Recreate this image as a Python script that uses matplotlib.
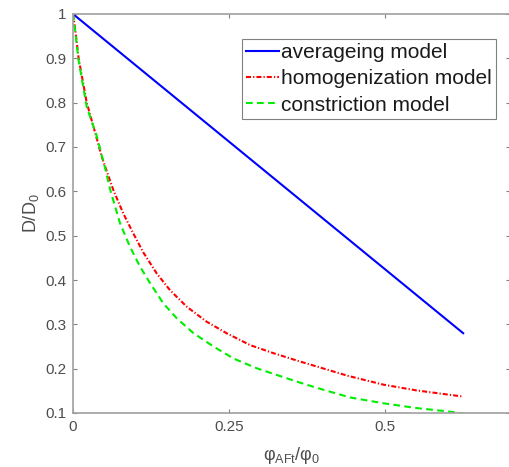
import matplotlib
matplotlib.use('Agg')
import matplotlib.pyplot as plt

plt.rcParams['font.family'] = ['Liberation Sans', 'DejaVu Sans']

# averaging model (straight line)
avg_x = [0.0, 0.625]
avg_y = [1.0, 0.28]

# homogenization model
hom_x = [0.0, 0.004, 0.009, 0.022, 0.035, 0.046, 0.0646, 0.0806, 0.0966, 0.1127,
         0.134, 0.1554, 0.182, 0.214, 0.246, 0.284, 0.321, 0.364, 0.44, 0.497,
         0.55, 0.625]
hom_y = [1.0, 0.96, 0.90, 0.80, 0.735, 0.678, 0.603, 0.550, 0.505, 0.462,
         0.415, 0.377, 0.340, 0.306, 0.280, 0.253, 0.235, 0.216, 0.184, 0.164,
         0.151, 0.137]

# constriction model
con_x = [0.0, 0.004, 0.009, 0.022, 0.038, 0.051, 0.0593, 0.0753, 0.0913, 0.1074,
         0.1234, 0.1448, 0.166, 0.193, 0.225, 0.257, 0.294, 0.326, 0.358, 0.39,
         0.444, 0.497, 0.551, 0.604, 0.625]
con_y = [1.0, 0.955, 0.895, 0.79, 0.725, 0.655, 0.605, 0.528, 0.475, 0.430,
         0.393, 0.347, 0.314, 0.280, 0.250, 0.223, 0.201, 0.186, 0.171, 0.157,
         0.135, 0.122, 0.111, 0.103, 0.099]

labels = ['averageing model', 'homogenization model', 'constriction model']
xticks = [0, 0.25, 0.5]
xticklabels = ['0', '0.25', '0.5']
yticks = [0.1, 0.2, 0.3, 0.4, 0.5, 0.6, 0.7, 0.8, 0.9, 1.0]
yticklabels = ['0.1', '0.2', '0.3', '0.4', '0.5', '0.6', '0.7', '0.8', '0.9', '1']

W, H = 509, 467
fig = plt.figure(figsize=(W / 100, H / 100), dpi=100)
ax = fig.add_axes([73 / W, 54 / H, 437 / W, 399 / H])

ax.plot(avg_x, avg_y, color='#0000ff', linestyle='-', linewidth=1.5, label=labels[0])
ax.plot(hom_x, hom_y, color='#ff0000', linestyle=(0, (2.4, 1.0, 0.6, 1.0)),
        linewidth=1.5, label=labels[1])
ax.plot(con_x, con_y, color='#00ee00', linestyle=(0, (3.2, 2.1)),
        linewidth=1.5, label=labels[2])

ax.set_xlim(0, 0.7)
ax.set_ylim(0.1, 1.0)
ax.set_xticks(xticks)
ax.set_xticklabels(xticklabels)
ax.set_yticks(yticks)
ax.set_yticklabels(yticklabels)

grey = '#4d4d4d'
for s in ax.spines.values():
    s.set_color('#a0a0a0')
    s.set_linewidth(1.2)
ax.tick_params(direction='in', length=3, width=0.8, colors='#808080',
               labelcolor=grey, labelsize=11, top=True, right=True, pad=5)

ax.set_xlabel(r'$\mathregular{φ_{AFt}/φ_0}$', fontsize=13, color=grey, labelpad=8)
ax.set_ylabel(r'$\mathregular{D/D_0}$', fontsize=13, color=grey, labelpad=3)

leg = ax.legend(loc='upper right', bbox_to_anchor=(496 / W, 1 - 39 / H),
                bbox_transform=fig.transFigure, borderaxespad=0,
                fontsize=15, handlelength=1.6, handletextpad=0.1,
                borderpad=0.2, labelspacing=0.35, fancybox=False,
                framealpha=1, edgecolor='#808080')
leg.get_frame().set_linewidth(0.8)
for t in leg.get_texts():
    t.set_color('#1a1a1a')

fig.savefig('out.png', dpi=100)
